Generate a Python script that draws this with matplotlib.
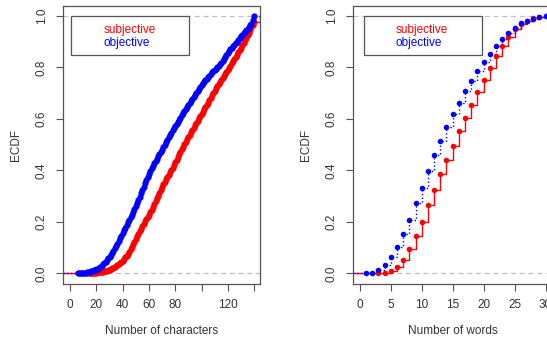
import matplotlib.pyplot as plt
from matplotlib.patches import Rectangle

plt.rcParams['font.family'] = ['Liberation Sans', 'DejaVu Sans']

# ECDF of number of characters (one value per character count)
chars_obj_x = list(range(6, 141))
chars_obj_y = [0.000, 0.000, 0.001, 0.001, 0.002, 0.002, 0.003, 0.004, 0.005, 0.006,
               0.008, 0.010, 0.012, 0.014, 0.016, 0.019, 0.022, 0.026, 0.030, 0.035,
               0.040, 0.046, 0.052, 0.058, 0.064, 0.072, 0.080, 0.089, 0.098, 0.107,
               0.116, 0.126, 0.136, 0.147, 0.158, 0.167, 0.177, 0.188, 0.198, 0.208,
               0.218, 0.228, 0.239, 0.250, 0.262, 0.274, 0.286, 0.298, 0.311, 0.324,
               0.337, 0.350, 0.362, 0.374, 0.386, 0.397, 0.408, 0.418, 0.428, 0.437,
               0.446, 0.455, 0.463, 0.472, 0.480, 0.490, 0.500, 0.509, 0.518, 0.528,
               0.537, 0.547, 0.556, 0.565, 0.573, 0.581, 0.589, 0.597, 0.605, 0.613,
               0.621, 0.629, 0.637, 0.645, 0.653, 0.661, 0.669, 0.677, 0.685, 0.693,
               0.701, 0.709, 0.716, 0.723, 0.730, 0.738, 0.744, 0.750, 0.756, 0.762,
               0.768, 0.774, 0.780, 0.784, 0.788, 0.794, 0.800, 0.806, 0.812, 0.818,
               0.825, 0.832, 0.840, 0.848, 0.856, 0.864, 0.870, 0.876, 0.882, 0.888,
               0.894, 0.900, 0.907, 0.913, 0.920, 0.926, 0.932, 0.938, 0.944, 0.950,
               0.956, 0.963, 0.970, 0.985, 1.000]
chars_subj_x = list(range(14, 141))
chars_subj_y = [0.000, 0.000, 0.001, 0.001, 0.002, 0.002, 0.003, 0.004, 0.004, 0.005,
                0.006, 0.007, 0.008, 0.010, 0.011, 0.013, 0.015, 0.017, 0.020, 0.023,
                0.026, 0.029, 0.033, 0.036, 0.040, 0.045, 0.050, 0.056, 0.062, 0.069,
                0.077, 0.085, 0.094, 0.103, 0.113, 0.123, 0.134, 0.144, 0.154, 0.164,
                0.174, 0.184, 0.193, 0.202, 0.210, 0.219, 0.228, 0.238, 0.248, 0.259,
                0.270, 0.280, 0.291, 0.302, 0.313, 0.325, 0.336, 0.346, 0.356, 0.366,
                0.375, 0.384, 0.393, 0.402, 0.411, 0.421, 0.432, 0.442, 0.452, 0.462,
                0.472, 0.482, 0.492, 0.502, 0.511, 0.520, 0.529, 0.538, 0.548, 0.557,
                0.566, 0.575, 0.584, 0.593, 0.602, 0.610, 0.619, 0.628, 0.637, 0.646,
                0.654, 0.662, 0.672, 0.681, 0.691, 0.700, 0.710, 0.718, 0.727, 0.735,
                0.744, 0.752, 0.760, 0.767, 0.775, 0.782, 0.790, 0.798, 0.807, 0.815,
                0.824, 0.832, 0.841, 0.849, 0.858, 0.867, 0.876, 0.886, 0.896, 0.906,
                0.915, 0.925, 0.935, 0.946, 0.955, 0.965, 0.975]

# ECDF of number of words
words_obj_x = list(range(1, 31))
words_obj_y = [0.000, 0.000, 0.013, 0.032, 0.062, 0.101, 0.153, 0.207, 0.272, 0.332,
               0.397, 0.459, 0.514, 0.567, 0.617, 0.660, 0.710, 0.746, 0.785, 0.819,
               0.851, 0.882, 0.908, 0.934, 0.953, 0.973, 0.981, 0.988, 0.995, 1.000]
words_subj_x = list(range(3, 31))
words_subj_y = [0.000, 0.003, 0.009, 0.026, 0.054, 0.094, 0.145, 0.201, 0.265, 0.323,
                0.386, 0.442, 0.495, 0.554, 0.604, 0.653, 0.704, 0.750, 0.798, 0.845,
                0.882, 0.916, 0.947, 0.968, 0.981, 0.990, 0.994, 1.000]

RED = '#ff0000'
BLUE = '#0000ff'
EDGE = '#555555'
TXT = '#333333'
FS = 8.5

fig = plt.figure(figsize=(5.47, 3.38), dpi=100)
ax1 = fig.add_axes([63/547, 1-284/338, 197/547, 278/338])
ax2 = fig.add_axes([353/547, 1-284/338, 200/547, 278/338])


def ecdf_panel(ax, xs1, ys1, xs2, ys2, xlim, xticks, xlabels, xlabel, ms, leg_x0, leg_w, txt_x):
    ax.set_xlim(*xlim)
    ax.set_ylim(-0.041, 1.038)
    for v in (0, 1):
        ax.axhline(v, color='#c0c0c0', lw=0.9, ls=(0, (4, 3)), zorder=1)
    for xs, ys, col, ls in ((xs1, ys1, RED, '-'), (xs2, ys2, BLUE, ':')):
        px = [xlim[0]] + list(xs) + [xlim[1]]
        py = [0] + list(ys) + [1]
        ax.step(px, py, where='post', color=col, lw=1.0, ls=ls, zorder=2)
        ax.plot(xs, ys, 'o', color=col, ms=ms, mew=0, zorder=3)
    ax.set_xticks(xticks)
    ax.set_xticklabels(xlabels)
    ax.set_yticks([0, 0.2, 0.4, 0.6, 0.8, 1.0])
    ax.set_yticklabels(['0.0', '0.2', '0.4', '0.6', '0.8', '1.0'], rotation=90, va='center')
    ax.tick_params(colors=EDGE, labelcolor=TXT, labelsize=FS, length=5, width=0.8)
    ax.tick_params(axis='x', pad=6)
    ax.tick_params(axis='y', pad=6)
    for s in ax.spines.values():
        s.set_color(EDGE)
        s.set_linewidth(0.9)
    ax.set_xlabel(xlabel, fontsize=FS, color=TXT, labelpad=10)
    ax.set_ylabel('ECDF', fontsize=FS, color=TXT, labelpad=10)
    ax.add_patch(Rectangle((leg_x0, 0.824), leg_w, 0.141, transform=ax.transAxes,
                           fill=True, facecolor='white', edgecolor=EDGE, lw=0.9, zorder=4))
    ax.text(txt_x, 0.914, 'subjective', color=RED, fontsize=FS, transform=ax.transAxes,
            va='center', ha='left', zorder=5)
    ax.text(txt_x, 0.867, 'objective', color=BLUE, fontsize=FS, transform=ax.transAxes,
            va='center', ha='left', zorder=5)


ecdf_panel(ax1, chars_subj_x, chars_subj_y, chars_obj_x, chars_obj_y, (-5.4, 144.5),
           [0, 20, 40, 60, 80, 100, 120, 140], ['0', '20', '40', '60', '80', '', '120', ''],
           'Number of characters', 4.5, 0.041, 0.599, 0.208)
ecdf_panel(ax2, words_subj_x, words_subj_y, words_obj_x, words_obj_y, (-1.1, 31.2),
           [0, 5, 10, 15, 20, 25, 30], ['0', '5', '10', '15', '20', '25', '30'],
           'Number of words', 4.0, 0.055, 0.59, 0.215)

fig.savefig('out.png', dpi=100)
